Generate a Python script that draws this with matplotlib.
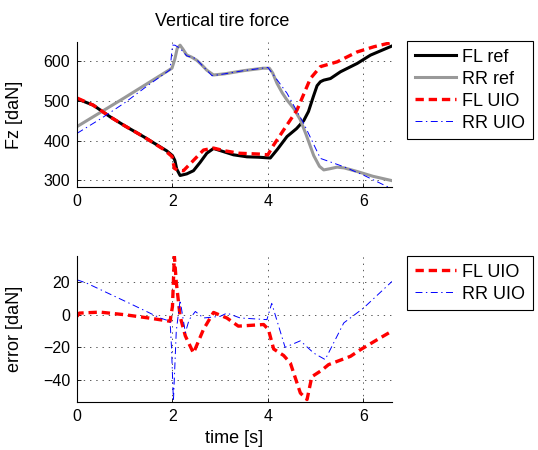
import matplotlib
matplotlib.use("Agg")
import matplotlib.pyplot as plt

plt.rcParams['font.family'] = ['Liberation Sans', 'DejaVu Sans']
plt.rcParams['font.size'] = 11.5
plt.rcParams['lines.scale_dashes'] = False

# Vertical tire forces (daN)
t_fl_ref = [0, 0.34, 0.69, 1.0, 1.39, 1.88, 2.0, 2.05, 2.09, 2.16, 2.3, 2.44, 2.58, 2.72, 2.86, 3.07, 3.28, 3.56, 3.8, 4.05, 4.2, 4.4, 4.6, 4.75, 4.85, 4.95, 5.03, 5.1, 5.17, 5.31, 5.52, 5.87, 6.15, 6.6]
fl_ref = [505, 489, 460, 437, 410, 374, 362, 350, 328, 312, 316, 324, 345, 368, 380, 372, 364, 359, 358, 356, 378, 410, 430, 450, 473, 510, 538, 548, 552, 556, 573, 594, 615, 638]

t_rr_ref = [0, 1.0, 1.99, 2.05, 2.1, 2.16, 2.22, 2.3, 2.4, 2.51, 2.6, 2.72, 2.86, 3.1, 3.5, 3.9, 4.03, 4.1, 4.19, 4.3, 4.4, 4.54, 4.68, 4.8, 4.96, 5.08, 5.17, 5.3, 5.45, 5.6, 5.87, 6.2, 6.6]
rr_ref = [435, 508, 582, 605, 632, 640, 630, 615, 610, 602, 592, 577, 565, 568, 576, 582, 582, 570, 544, 520, 502, 481, 452, 415, 362, 335, 326, 329, 333, 331, 322, 310, 299]

t_fl_uio = [0, 0.34, 0.69, 1.0, 1.39, 1.81, 1.99, 2.04, 2.1, 2.23, 2.4, 2.65, 2.86, 3.1, 3.4, 3.8, 4.0, 4.1, 4.26, 4.61, 4.89, 5.1, 5.45, 5.87, 6.22, 6.6]
fl_uio = [507, 489, 460, 437, 410, 378, 360, 330, 326, 324, 345, 376, 381, 374, 368, 366, 364, 385, 414, 477, 556, 586, 598, 623, 636, 647]

t_rr_uio = [0, 0.5, 1.0, 1.5, 1.95, 2.0, 2.05, 2.16, 2.3, 2.48, 2.83, 3.1, 3.5, 4.0, 4.1, 4.4, 4.75, 5.1, 5.59, 6.0, 6.5, 6.6]
rr_uio = [418, 455, 495, 540, 578, 640, 640, 632, 613, 607, 563, 568, 576, 584, 568, 519, 443, 355, 334, 313, 284, 281]

# Estimation errors (daN)
t_err_fl = [0, 0.05, 0.48, 1.0, 1.5, 1.95, 2.0, 2.04, 2.08, 2.16, 2.27, 2.44, 2.65, 2.86, 3.14, 3.38, 3.91, 4.01, 4.12, 4.33, 4.47, 4.68, 4.82, 4.92, 5.13, 5.27, 5.73, 5.94, 6.29, 6.6]
err_fl = [-1, 1, 1.6, 0, -2, -4, 5, 36, 20, -1, -13, -23.5, -9, 1.4, -2, -7, -6, -9, -21, -25, -29.6, -48, -52, -38, -34, -30.6, -25.5, -21.4, -15.3, -10]

t_err_rr = [0, 0.2, 1.1, 1.74, 1.95, 1.98, 2.02, 2.08, 2.16, 2.27, 2.35, 2.48, 2.65, 3.0, 3.14, 3.42, 3.98, 4.08, 4.36, 4.68, 4.96, 5.2, 5.59, 6.0, 6.6]
err_rr = [21.4, 19.4, 7, -2, -4, -20, -53, -10, 9, -11, -3, 2, -2, -1, 1, -2, -3, 7, -20, -16, -23.5, -27.5, -5, 4, 20.4]

x_ticks = [0, 2, 4, 6]
fz_ticks = [300, 400, 500, 600]
err_ticks = [-40, -20, 0, 20]

W, H = 538, 450
fig = plt.figure(figsize=(W / 100, H / 100), dpi=100)

def px_axes(l, t, r, b):
    return fig.add_axes([l / W, 1 - b / H, (r - l) / W, (b - t) / H])

ax1 = px_axes(77, 42, 392, 187)
ax2 = px_axes(77, 256, 392, 402)

red_dash = dict(color='#ff0000', lw=2.4, dashes=(6, 3.5))
blue_dd = dict(color='#0000ff', lw=0.7, dashes=(5, 2.5, 1, 2.5))

h1, = ax1.plot(t_fl_ref, fl_ref, color='black', lw=2.2, label='FL ref')
h2, = ax1.plot(t_rr_ref, rr_ref, color='#999999', lw=2.2, label='RR ref')
h3, = ax1.plot(t_fl_uio, fl_uio, label='FL UIO', **red_dash)
h4, = ax1.plot(t_rr_uio, rr_uio, label='RR UIO', **blue_dd)

g1, = ax2.plot(t_err_fl, err_fl, label='FL UIO', **red_dash)
g2, = ax2.plot(t_err_rr, err_rr, label='RR UIO', **blue_dd)

ax1.set_xlim(0, 6.6)
ax1.set_ylim(283, 648)
ax1.set_yticks(fz_ticks)
ax2.set_xlim(0, 6.6)
ax2.set_ylim(-53.5, 36)
ax2.set_yticks(err_ticks)

for ax in (ax1, ax2):
    ax.set_xticks(x_ticks)
    ax.spines['top'].set_visible(False)
    ax.spines['right'].set_visible(False)
    ax.spines['left'].set_linewidth(0.8)
    ax.spines['bottom'].set_linewidth(0.8)
    ax.tick_params(direction='in', length=3, width=0.6, labelsize=11.5, pad=5)
    ax.grid(True, linestyle=(0, (1, 3.5)), color='0.35', lw=0.7)
    ax.set_axisbelow(True)

ax1.set_ylabel('Fz [daN]', fontsize=13)
ax1.yaxis.set_label_coords(-0.171, 0.5)
ax2.set_ylabel('error [daN]', fontsize=13)
ax2.yaxis.set_label_coords(-0.171, 0.5)
ax2.set_xlabel('time [s]', fontsize=13)
ax2.xaxis.set_label_coords(0.5, -0.247)
ax2.xaxis.label.set_va('center')

fig.text(222.5 / W, 1 - 21 / H, 'Vertical tire force', ha='center', va='center', fontsize=13)

leg_kw = dict(loc='upper left', borderaxespad=0, fancybox=False, framealpha=1,
              edgecolor='black', fontsize=13, handlelength=2.3, handletextpad=0.35,
              labelspacing=0.28, borderpad=0.42)
l1 = fig.legend(handles=[h1, h2, h3, h4], bbox_to_anchor=(407 / W, 1 - 41 / H), **leg_kw)
l2 = fig.legend(handles=[g1, g2], bbox_to_anchor=(407 / W, 1 - 256 / H), **leg_kw)
for lg in (l1, l2):
    lg.get_frame().set_linewidth(0.8)

fig.savefig('out.png', dpi=100)
